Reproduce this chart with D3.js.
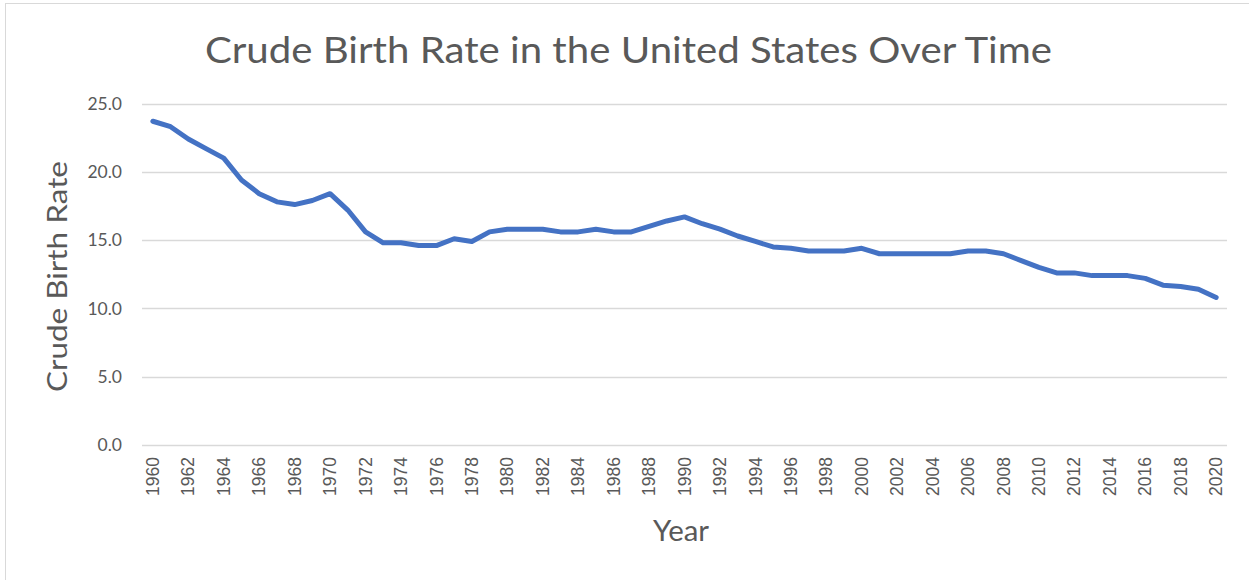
<!DOCTYPE html>
<html>
<head>
<meta charset="utf-8">
<script src="https://cdn.jsdelivr.net/npm/d3@7"></script>
<style>
  body { margin: 0; background: #fff; }
  text { fill: #595959; }
</style>
</head>
<body>
<svg width="1249" height="580"></svg>
<script>
const years = d3.range(1960, 2021);
const birthRates = [
  23.7, 23.3, 22.4, 21.7, 21.0, 19.4, 18.4, 17.8, 17.6, 17.9,
  18.4, 17.2, 15.6, 14.8, 14.8, 14.6, 14.6, 15.1, 14.9, 15.6,
  15.8, 15.8, 15.8, 15.6, 15.6, 15.8, 15.6, 15.6, 16.0, 16.4,
  16.7, 16.2, 15.8, 15.3, 14.9, 14.5, 14.4, 14.2, 14.2, 14.2,
  14.4, 14.0, 14.0, 14.0, 14.0, 14.0, 14.2, 14.2, 14.0, 13.5,
  13.0, 12.6, 12.6, 12.4, 12.4, 12.4, 12.2, 11.7, 11.6, 11.4,
  10.8
];
const yTicks = [0, 5, 10, 15, 20, 25];
const xTickYears = years.filter(y => y % 2 === 0);

const title = 'Crude Birth Rate in the United States Over Time';
const xAxisLabel = 'Year';
const yAxisLabel = 'Crude Birth Rate';

const data = years.map((year, i) => ({ year, rate: birthRates[i] }));

const svg = d3.select('svg');
const width = +svg.attr('width');
const height = +svg.attr('height');

// chart border
svg.append('rect')
  .attr('x', 5.5)
  .attr('y', 3.5)
  .attr('width', width + 10)
  .attr('height', height + 10)
  .attr('fill', 'none')
  .attr('stroke', '#d9d9d9');

const plot = { left: 142, right: 1227, top: 103.5, bottom: 445 };

const xScale = d3.scaleBand()
  .domain(years)
  .range([144, 1225]);

const yScale = d3.scaleLinear()
  .domain([0, 25])
  .range([plot.bottom, plot.top]);

// gridlines
svg.append('g')
  .selectAll('line')
  .data(yTicks)
  .enter().append('line')
  .attr('x1', plot.left)
  .attr('x2', plot.right)
  .attr('y1', d => Math.round(yScale(d)) + 0.5)
  .attr('y2', d => Math.round(yScale(d)) + 0.5)
  .attr('stroke', '#d9d9d9')
  .attr('stroke-width', 1.3);

// y axis
const yAxis = d3.axisLeft(yScale)
  .tickValues(yTicks)
  .tickFormat(d3.format('.1f'))
  .tickSize(0)
  .tickPadding(20);

const yAxisG = svg.append('g')
  .attr('transform', `translate(${plot.left},0)`)
  .call(yAxis);
yAxisG.select('.domain').remove();
yAxisG.selectAll('text')
  .attr('font-family', 'Lato')
  .attr('font-size', '17.5px')
  .attr('fill', '#595959');

// x axis
const xAxis = d3.axisBottom(xScale)
  .tickValues(xTickYears)
  .tickSize(0)
  .tickPadding(0);

const xAxisG = svg.append('g')
  .attr('transform', `translate(0,${plot.bottom})`)
  .call(xAxis);
xAxisG.select('.domain').remove();
xAxisG.selectAll('text')
  .attr('font-family', 'Liberation Sans')
  .attr('font-size', '17.5px')
  .attr('fill', '#595959')
  .attr('text-anchor', 'end')
  .attr('transform', 'rotate(-90)')
  .attr('x', -12)
  .attr('y', 0)
  .attr('dy', '0.35em');

// line
const line = d3.line()
  .x(d => xScale(d.year) + xScale.bandwidth() / 2)
  .y(d => yScale(d.rate));

svg.append('path')
  .datum(data)
  .attr('d', line)
  .attr('fill', 'none')
  .attr('stroke', '#4472c4')
  .attr('stroke-width', 5)
  .attr('stroke-linejoin', 'round')
  .attr('stroke-linecap', 'round');

// title
svg.append('text')
  .attr('x', 205)
  .attr('y', 63)
  .attr('font-family', 'Lato')
  .attr('font-size', '37px')
  .attr('textLength', 847)
  .attr('lengthAdjust', 'spacingAndGlyphs')
  .text(title);

// axis titles
svg.append('text')
  .attr('x', 653)
  .attr('y', 541)
  .attr('font-family', 'Lato')
  .attr('font-size', '29px')
  .attr('textLength', 56)
  .attr('lengthAdjust', 'spacingAndGlyphs')
  .text(xAxisLabel);

svg.append('text')
  .attr('transform', 'translate(67,392) rotate(-90)')
  .attr('font-family', 'Lato')
  .attr('font-size', '27px')
  .attr('textLength', 231)
  .attr('lengthAdjust', 'spacingAndGlyphs')
  .text(yAxisLabel);
</script>
</body>
</html>
